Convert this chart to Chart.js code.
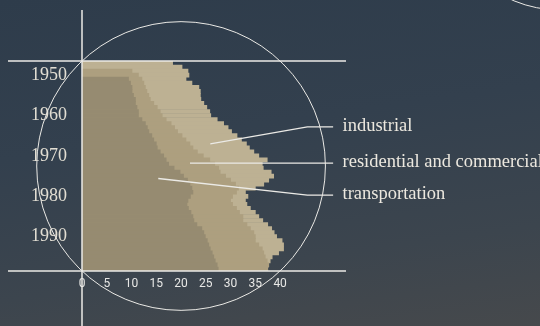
<!DOCTYPE html>
<html>
<head>
<meta charset="utf-8">
<script src="https://cdn.jsdelivr.net/npm/chart.js@4/dist/chart.umd.min.js"></script>
<style>
    html, body {
        margin: 0;
        padding: 0;
    }
    body {
        width: 540px;
        height: 326px;
        overflow: hidden;
        background: linear-gradient(172deg, #2e3c4b 0%, #33404e 40%, #3c454e 75%, #46494c 100%);
    }
    #wrap {
        position: relative;
        width: 540px;
        height: 326px;
    }
</style>
</head>
<body>
<div id="wrap"><canvas id="energyChart" width="540" height="326"></canvas></div>
<script>
// years on the vertical axis, 1947 at the top
const years = [
    '1947', '1948', '1949', '1950', '1951', '1952', '1953', '1954', '1955', '1956',
    '1957', '1958', '1959', '1960', '1961', '1962', '1963', '1964', '1965', '1966',
    '1967', '1968', '1969', '1970', '1971', '1972', '1973', '1974', '1975', '1976',
    '1977', '1978', '1979', '1980', '1981', '1982', '1983', '1984', '1985', '1986',
    '1987', '1988', '1989', '1990', '1991', '1992', '1993', '1994', '1995', '1996',
    '1997', '1998'
];

const transportation = [
    null, null, null, null, 9.4, 9.8, 10.1, 10.1, 10.4, 10.8,
    10.8, 11.1, 11.4, 11.4, 12.1, 12.8, 13.2, 13.5, 14.1, 14.5,
    15.0, 15.2, 15.8, 16.5, 17.0, 17.5, 18.6, 19.8, 20.5, 21.3,
    21.8, 22.2, 22.4, 21.9, 21.4, 21.2, 21.5, 22.0, 22.4, 22.6,
    23.2, 24.2, 24.6, 24.9, 25.3, 25.6, 25.9, 26.3, 26.6, 26.9,
    27.3, 27.5
];

const residentialCommercial = [
    null, null, 10.1, 11.4, 12.1, 12.5, 12.8, 13.1, 13.5, 13.8,
    14.5, 15.2, 15.8, 16.2, 17.0, 18.0, 18.7, 19.3, 20.2, 21.0,
    21.8, 22.4, 23.3, 24.5, 25.8, 26.8, 27.6, 27.9, 29.0, 30.0,
    31.0, 31.6, 31.2, 30.4, 30.0, 30.4, 31.2, 31.8, 32.5, 32.5,
    33.3, 34.0, 34.7, 35.0, 35.0, 35.7, 36.4, 36.7, 37.0, 37.4,
    37.7, 37.5
];

const industrial = [
    18.3, 20.2, 21.4, 21.6, 21.0, 22.2, 23.6, 23.9, 23.9, 24.0,
    24.6, 25.2, 25.8, 26.0, 27.3, 28.6, 29.5, 30.2, 31.3, 32.2,
    33.2, 33.8, 34.7, 35.7, 37.4, 36.4, 36.6, 38.2, 38.7, 37.7,
    36.7, 35.0, 33.0, 33.5, 33.0, 33.3, 34.0, 35.0, 35.7, 36.5,
    37.5, 38.3, 38.8, 39.3, 40.4, 40.7, 40.7, 39.7, 38.4, 38.0,
    37.7, 37.5
];

const xTicks = [0, 5, 10, 15, 20, 25, 30, 35, 40];

// leader labels: text, point on the bars [value, year], elbow [value, year]
const leaderLabels = ['industrial', 'residential and commercial', 'transportation'];
const leaderAnchors = [[25.9, 1967.0], [21.8, 1971.8], [15.4, 1975.6]];
const leaderElbows = [[45.5, 1962.8], [45.5, 1971.8], [45.5, 1979.7]];

const lineColor = '#ebeae6';

const decorations = {
    id: 'decorations',
    afterDraw(chart) {
        const ctx = chart.ctx;
        const area = chart.chartArea;
        const xs = chart.scales.x;
        const ys = chart.scales.y;
        const yearPixel = (yr) => ys.getPixelForValue(yr - Number(years[0]));

        ctx.save();
        ctx.strokeStyle = lineColor;

        // frame lines
        ctx.lineWidth = 1.5;
        const x0 = xs.getPixelForValue(0);
        ctx.beginPath();
        ctx.moveTo(x0, 10);
        ctx.lineTo(x0, chart.height);
        ctx.moveTo(8, area.top);
        ctx.lineTo(area.right, area.top);
        ctx.moveTo(8, area.bottom);
        ctx.lineTo(area.right, area.bottom);
        ctx.stroke();

        // big circle through the frame corners
        const cx = xs.getPixelForValue(20);
        const cy = (area.top + area.bottom) / 2;
        const r = Math.hypot(cx - area.left, cy - area.top);
        ctx.lineWidth = 1;
        ctx.beginPath();
        ctx.arc(cx, cy, r, 0, Math.PI * 2);
        ctx.stroke();

        // arc in the top right corner
        ctx.beginPath();
        ctx.arc(chart.width + 20, -110, 120, 0, Math.PI * 2);
        ctx.stroke();

        // leader lines and their labels
        const lineEnd = xs.getPixelForValue(50.7);
        const textX = xs.getPixelForValue(52.6);
        ctx.lineWidth = 1.3;
        ctx.font = '18.5px "Liberation Serif", "DejaVu Serif", serif';
        ctx.fillStyle = '#ece8df';
        ctx.textBaseline = 'alphabetic';
        leaderLabels.forEach((label, i) => {
            const ax = xs.getPixelForValue(leaderAnchors[i][0]);
            const ay = yearPixel(leaderAnchors[i][1]);
            const ex = xs.getPixelForValue(leaderElbows[i][0]);
            const ey = yearPixel(leaderElbows[i][1]);
            ctx.beginPath();
            ctx.moveTo(ax, ay);
            ctx.lineTo(ex, ey);
            ctx.lineTo(lineEnd, ey);
            ctx.stroke();
            ctx.fillText(label, textX, ey + 4);
        });
        ctx.restore();
    }
};

const ctx = document.getElementById('energyChart').getContext('2d');

const barStyle = {
    grouped: false,
    barPercentage: 1,
    categoryPercentage: 1,
    borderWidth: 0
};

new Chart(ctx, {
    type: 'bar',
    data: {
        labels: years,
        datasets: [
            Object.assign({ label: 'transportation', data: transportation, backgroundColor: '#968b71' }, barStyle),
            Object.assign({ label: 'residential and commercial', data: residentialCommercial, backgroundColor: '#ad9f7f' }, barStyle),
            Object.assign({ label: 'industrial', data: industrial, backgroundColor: '#bdb193' }, barStyle)
        ]
    },
    options: {
        indexAxis: 'y',
        responsive: false,
        animation: false,
        events: [],
        layout: {
            padding: { top: 61, right: 194, bottom: 0, left: 0 }
        },
        plugins: {
            legend: { display: false },
            tooltip: { enabled: false }
        },
        scales: {
            y: {
                type: 'category',
                grid: { display: false, drawTicks: false },
                border: { display: false },
                afterFit: function(scale) {
                    scale.width = 82;
                },
                ticks: {
                    autoSkip: false,
                    padding: 15,
                    color: '#e2ded3',
                    font: { family: '"Liberation Serif", "DejaVu Serif", serif', size: 18 },
                    callback: function(value) {
                        const yr = years[value];
                        return Number(yr) % 10 === 0 ? yr : '';
                    }
                }
            },
            x: {
                type: 'linear',
                min: 0,
                max: 53.3,
                grid: { display: false, drawTicks: false },
                border: { display: false },
                afterFit: function(scale) {
                    scale.height = 55;
                },
                afterBuildTicks: function(scale) {
                    scale.ticks = xTicks.map(v => ({ value: v }));
                },
                ticks: {
                    padding: 6,
                    color: '#e8e8e6',
                    font: { family: 'Roboto, "Liberation Sans", sans-serif', size: 12 }
                }
            }
        }
    },
    plugins: [decorations]
});
</script>
</body>
</html>
